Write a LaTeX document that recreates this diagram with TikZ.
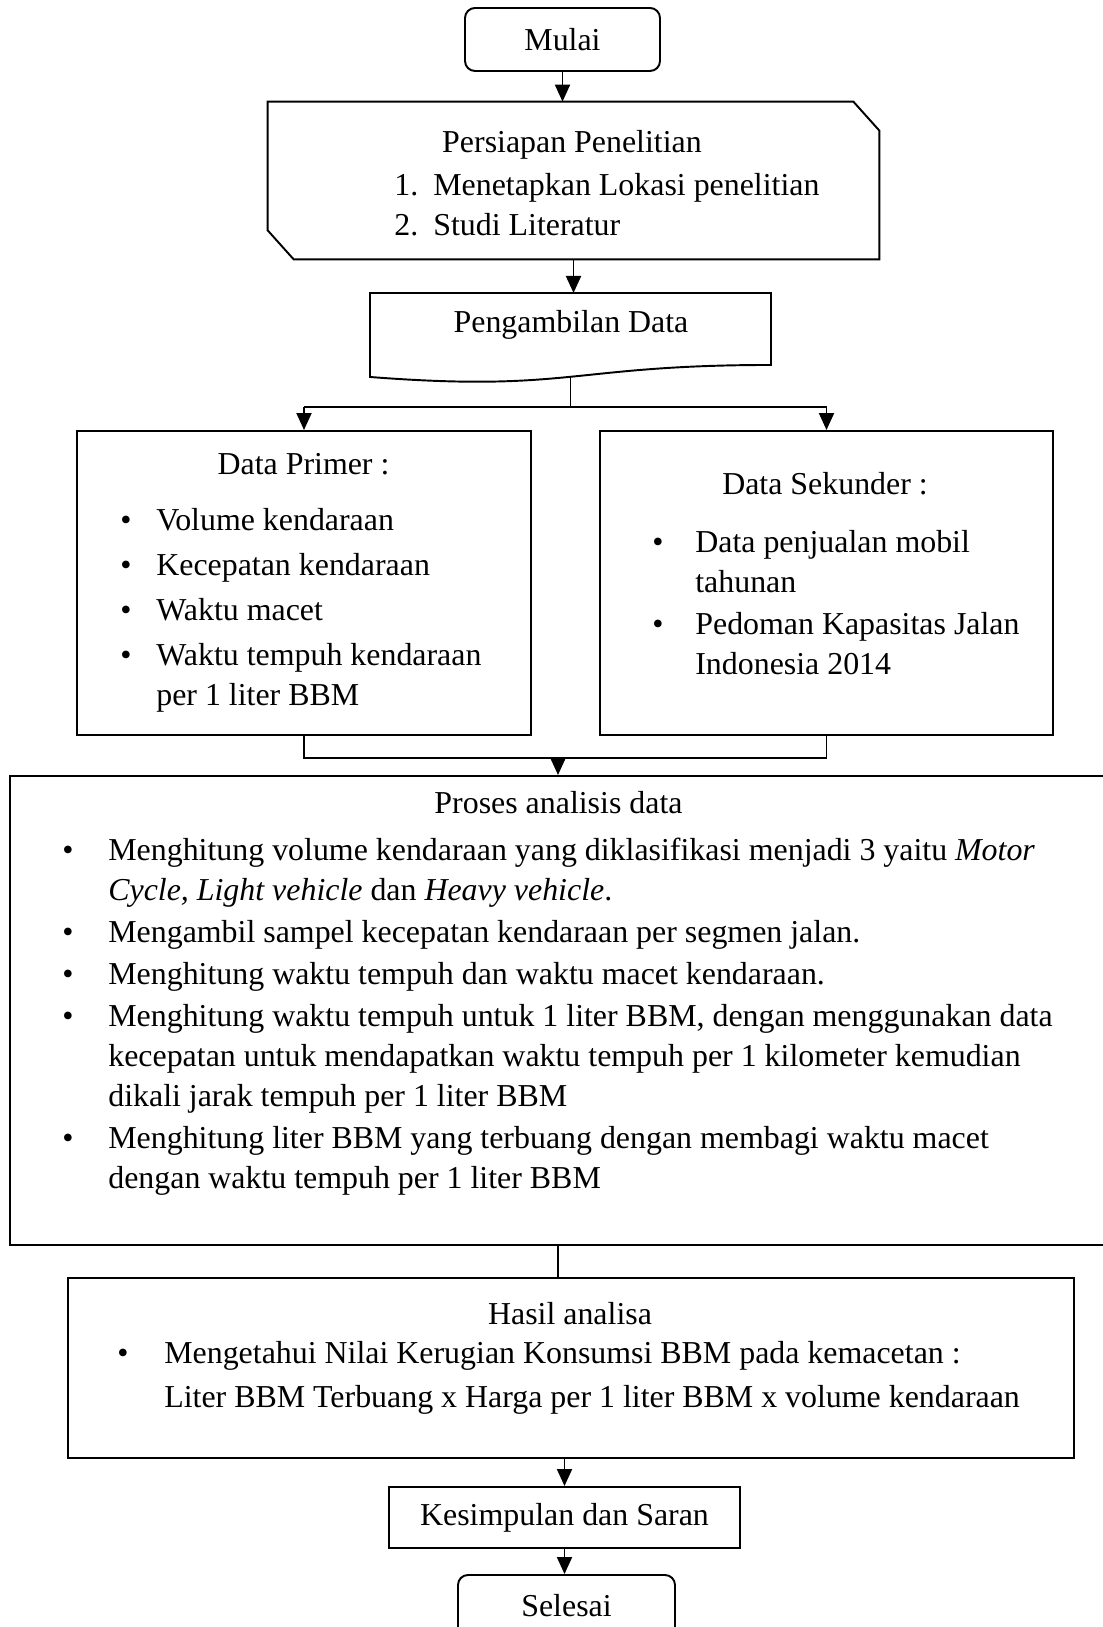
\documentclass[tikz,border=0pt]{standalone}
\usepackage{fontspec}
\setmainfont{Liberation Serif}
\usetikzlibrary{arrows.meta}

\tikzset{
  box/.style={draw, line width=1.1pt, inner sep=0pt},
  termbox/.style={box, rounded corners=0.2cm},
  conn/.style={line width=1.1pt},
  arr/.style={conn, -{Triangle[length=0.34cm,width=0.3cm]}},
  lst/.style={anchor=north west, inner sep=0pt, align=left},
}

\begin{document}
\begin{tikzpicture}[font=\fontsize{18.15}{22.76}\selectfont]
    \useasboundingbox (0,0) rectangle (22.06,32.54);

    \node[termbox, minimum width=3.9cm, minimum height=1.26cm] (mulai) at (11.25,31.75) {Mulai};

    \node[minimum width=12.22cm, minimum height=3.14cm, inner sep=0pt] (persiapan) at (11.47,28.93) {};
    \draw[conn] (persiapan.north west) -- ([xshift=-0.52cm]persiapan.north east)
        -- ([yshift=-0.58cm]persiapan.north east) -- (persiapan.south east)
        -- ([xshift=0.52cm]persiapan.south west) -- ([yshift=0.58cm]persiapan.south west) -- cycle;
    \node (persiapanjudul) at (11.44,29.64) {Persiapan Penelitian};
    \node[lst] (persiapanisi) at (7.88,29.20) {\begin{tabular}{@{}p{0.78cm}@{}l@{}}
        1. & Menetapkan Lokasi penelitian\\
        2. & Studi Literatur
    \end{tabular}};

    \coordinate (ambilnw) at (7.40,26.68);
    \coordinate (ambilne) at (15.42,26.68);
    \coordinate (ambilse) at (15.42,25.24);
    \coordinate (ambilsw) at (7.40,25.00);
    \coordinate (ambilbot) at (11.41,25.00);
    \draw[conn] (ambilsw) -- (ambilnw) -- (ambilne) -- (ambilse)
        .. controls (11.41,25.24) and (11.41,24.69) .. (ambilsw) -- cycle;
    \node (ambil) at (11.42,26.04) {Pengambilan Data};

    \coordinate (split) at (11.41,24.40);
    \node[box, minimum width=9.08cm, minimum height=6.08cm] (primer) at (6.08,20.88) {};
    \node[box, minimum width=9.06cm, minimum height=6.08cm] (sekunder) at (16.53,20.88) {};

    \node (primerjudul) at (6.07,23.26) {Data Primer :};
    \node[lst] (primerisi) at (2.40,22.50) {\begin{tabular}{@{}p{0.72cm}@{}l@{}}
        \textbullet & Volume kendaraan\\[0.1cm]
        \textbullet & Kecepatan kendaraan\\[0.1cm]
        \textbullet & Waktu macet\\[0.1cm]
        \textbullet & Waktu tempuh kendaraan\\
                    & per 1 liter BBM
    \end{tabular}};

    \node (sekunderjudul) at (16.50,22.86) {Data Sekunder :};
    \node[lst] (sekunderisi) at (13.04,22.06) {\begin{tabular}{@{}p{0.86cm}@{}l@{}}
        \textbullet & Data penjualan mobil\\
                    & tahunan\\[0.04cm]
        \textbullet & Pedoman Kapasitas Jalan\\
                    & Indonesia 2014
    \end{tabular}};

    \coordinate (join) at (11.16,17.38);
    \node[box, minimum width=22.4cm, minimum height=9.38cm] (proses) at (11.40,12.33) {};
    \node (prosesjudul) at (11.17,16.48) {Proses analisis data};
    \node[lst] (prosesisi) at (1.24,15.90) {\begin{tabular}{@{}p{0.92cm}@{}l@{}}
        \textbullet & Menghitung volume kendaraan yang diklasifikasi menjadi 3 yaitu \textit{Motor}\\
                    & \textit{Cycle, Light vehicle} dan \textit{Heavy vehicle}.\\[0.04cm]
        \textbullet & Mengambil sampel kecepatan kendaraan per segmen jalan.\\[0.04cm]
        \textbullet & Menghitung waktu tempuh dan waktu macet kendaraan.\\[0.04cm]
        \textbullet & Menghitung waktu tempuh untuk 1 liter BBM, dengan menggunakan data\\
                    & kecepatan untuk mendapatkan waktu tempuh per 1 kilometer kemudian\\
                    & dikali jarak tempuh per 1 liter BBM\\[0.04cm]
        \textbullet & Menghitung liter BBM yang terbuang dengan membagi waktu macet\\
                    & dengan waktu tempuh per 1 liter BBM
    \end{tabular}};

    \node[box, minimum width=20.12cm, minimum height=3.6cm] (hasil) at (11.42,5.18) {};
    \node (hasiljudul) at (11.40,6.26) {Hasil analisa};
    \node[lst] (hasilisi) at (2.34,5.84) {\begin{tabular}{@{}p{0.94cm}@{}l@{}}
        \textbullet & Mengetahui Nilai Kerugian Konsumsi BBM pada kemacetan :\\[0.08cm]
                    & Liter BBM Terbuang x Harga per 1 liter BBM x volume kendaraan
    \end{tabular}};

    \node[box, minimum width=7.02cm, minimum height=1.22cm] (simpul) at (11.29,2.19) {Kesimpulan dan Saran};
    \node[termbox, minimum width=4.34cm, minimum height=1.24cm] (selesai) at (11.33,0.42) {Selesai};

    \draw[arr] (mulai.south) -- (mulai.south |- persiapan.north);
    \draw[arr] (persiapan.south) -- (persiapan.south |- ambilnw);
    \draw[line width=0.5pt] (ambilbot) -- (split);
    \draw[conn] (primer.north |- split) -- (sekunder.north |- split);
    \draw[arr] (primer.north |- split) -- (primer.north);
    \draw[arr] (sekunder.north |- split) -- (sekunder.north);
    \draw[conn] (primer.south) -- (primer.south |- join) -- (sekunder.south |- join) -- (sekunder.south);
    \draw[arr] (join) -- (join |- proses.north);
    \draw[conn] (join |- proses.south) -- (join |- hasil.north);
    \draw[arr] (simpul.north |- hasil.south) -- (simpul.north);
    \draw[arr] (simpul.south) -- (simpul.south |- selesai.north);
\end{tikzpicture}
\end{document}
